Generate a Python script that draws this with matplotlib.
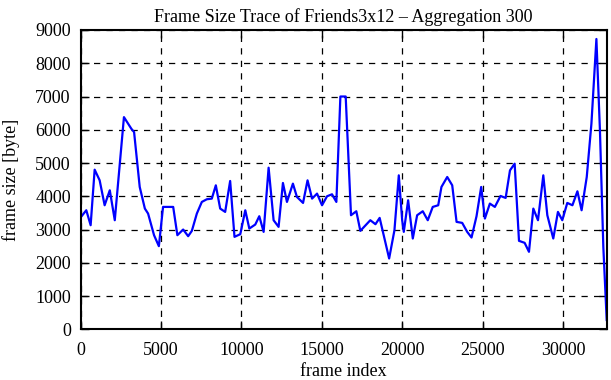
import matplotlib
matplotlib.use('Agg')
import matplotlib.pyplot as plt

# vertices (frame index, aggregated frame size in byte)
frame_index = [0, 360, 630, 880, 1190, 1500, 1820, 2130, 2700, 3160, 3330, 3680,
               4000, 4200, 4570, 4870, 5130, 5760, 6020, 6380, 6690, 6920, 7230,
               7540, 7850, 8160, 8410, 8680, 8990, 9300, 9570, 9930, 10240, 10490,
               10860, 11110, 11380, 11690, 12000, 12310, 12580, 12830, 13200, 13450,
               13830, 14110, 14390, 14700, 15010, 15320, 15630, 15900, 16150, 16480,
               16810, 17140, 17390, 18010, 18330, 18590, 19180, 19510, 19780, 19990,
               20090, 20360, 20650, 20920, 21270, 21580, 21890, 22230, 22430, 22790,
               23100, 23370, 23720, 24030, 24300, 24610, 24900, 25130, 25440, 25750,
               26100, 26420, 26690, 26980, 27250, 27600, 27870, 28140, 28430, 28760,
               29010, 29380, 29670, 29940, 30250, 30570, 30880, 31140, 31460, 31750,
               32060, 32280, 32490, 32700]
frame_size = [3360, 3580, 3130, 4800, 4480, 3730, 4180, 3280, 6380, 6030, 5930, 4280,
              3630, 3480, 2830, 2500, 3680, 3680, 2830, 3000, 2800, 2960, 3480,
              3830, 3910, 3930, 4330, 3630, 3530, 4460, 2780, 2860, 3580, 3030,
              3150, 3400, 2930, 4860, 3280, 3080, 4400, 3830, 4380, 3980,
              3800, 4480, 3930, 4080, 3730, 4000, 4060, 3830, 7000, 7000,
              3430, 3550, 2960, 3280, 3160, 3350, 2130, 2980, 4630, 3280,
              2930, 3880, 2730, 3430, 3550, 3280, 3680, 3730, 4280, 4580,
              4330, 3230, 3200, 2930, 2760, 3400, 4280, 3330, 3780, 3680,
              4010, 3950, 4780, 4980, 2660, 2600, 2330, 3630, 3280, 4630,
              3430, 2730, 3530, 3280, 3800, 3730, 4150, 3580, 4580, 6180,
              8730, 5980, 2480, 280]

plt.rcParams['font.family'] = ['Liberation Serif', 'DejaVu Serif']
plt.rcParams['font.size'] = 13

fig = plt.figure(figsize=(6.11, 3.80), dpi=100)
ax = fig.add_axes([80.5 / 611, 1 - 329.3 / 380, (606.7 - 80.5) / 611, (329.3 - 30) / 380])

ax.plot(frame_index, frame_size, color='#0000ff', linewidth=1.6)

ax.set_xlim(0, frame_index[-1])
ax.set_ylim(0, 9000)
ax.set_xticks(range(0, 30001, 5000))
ax.set_yticks(range(0, 9001, 1000))
ax.tick_params(direction='in', length=6, width=1, top=True, right=True)
ax.tick_params(axis='x', pad=9)
ax.tick_params(axis='y', pad=7)
ax.grid(True, color='black', linestyle=(0, (5, 5)), linewidth=0.9)
for s in ax.spines.values():
    s.set_linewidth(1.5)

ax.set_xlabel('frame index', labelpad=3)
ax.set_ylabel('frame size [byte]', labelpad=11)
ax.set_title('Frame Size Trace of Friends3x12 \u2013 Aggregation 300', fontsize=13, pad=6)

fig.savefig('out.png', dpi=100)
